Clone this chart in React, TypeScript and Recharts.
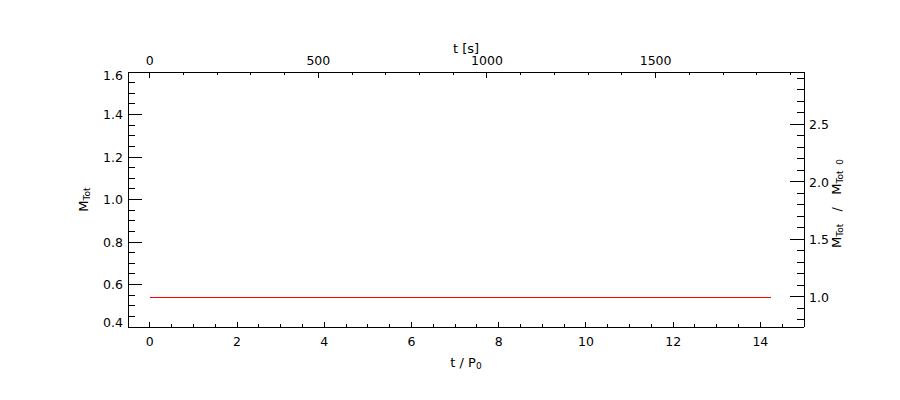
import React from 'react';
import { LineChart, Line, XAxis, YAxis, Label } from 'recharts';

// bottom axis: t / P0, top axis: t [s]
const tOverP0 = [0, 2, 4, 6, 8, 10, 12, 14.24];
const mTot = [0.541, 0.541, 0.541, 0.541, 0.541, 0.541, 0.541, 0.541];
const tSeconds = [0, 259, 518, 777, 1036, 1295, 1554, 1844];
const mRatio = [1.0, 1.0, 1.0, 1.0, 1.0, 1.0, 1.0, 1.0];

const bottomLabels = [0, 2, 4, 6, 8, 10, 12, 14];
const topLabels = [0, 500, 1000, 1500];
const leftLabels = [0.4, 0.6, 0.8, 1.0, 1.2, 1.4, 1.6];
const rightLabels = [1.0, 1.5, 2.0, 2.5];

const range = (a: number, b: number, step: number) => {
  const out: number[] = [];
  for (let i = 0; a + i * step <= b + 1e-9; i++) out.push(+(a + i * step).toFixed(4));
  return out;
};

const bottomTicks = range(0, 14.5, 0.5);
const topTicks = range(0, 1900, 100);
const leftTicks = range(0.4, 1.6, 0.05);
const rightTicks = range(0.8, 2.9, 0.1);

const mainData = tOverP0.map((t, i) => ({ t, m: mTot[i] }));
const ratioData = tSeconds.map((s, i) => ({ s, r: mRatio[i] }));

const FONT = 'DejaVu Sans';
const RED = '#ff0000';

const isLabel = (v: number, list: number[]) => list.some((l) => Math.abs(l - v) < 1e-6);

function makeTick(side: 'bottom' | 'top' | 'left' | 'right', labels: number[], fmt: (v: number) => string) {
  return (props: any) => {
    const { x, y, payload, index } = props;
    const v = payload.value as number;
    const major = isLabel(v, labels);
    const horiz = side === 'bottom' || side === 'top';
    const len = horiz ? (major ? 5.5 : 3) : major ? 14 : 7;
    let line;
    let text = null;
    if (side === 'bottom') {
      line = <line x1={x} y1={y} x2={x} y2={y - len} stroke="#000" shapeRendering="crispEdges" />;
      if (major) text = <text x={x} y={y + 19} textAnchor="middle">{fmt(v)}</text>;
    } else if (side === 'top') {
      line = <line x1={x} y1={y} x2={x} y2={y + len} stroke="#000" shapeRendering="crispEdges" />;
      if (major) text = <text x={x} y={y - 7} textAnchor="middle">{fmt(v)}</text>;
    } else if (side === 'left') {
      line = <line x1={x} y1={y} x2={x + len} y2={y} stroke="#000" shapeRendering="crispEdges" />;
      let dy = 4.5;
      if (index === 0) dy = 0;
      if (v >= 1.6 - 1e-6) dy = 7.5;
      if (major) text = <text x={x - 5} y={y + dy} textAnchor="end">{fmt(v)}</text>;
    } else {
      line = <line x1={x} y1={y} x2={x - len} y2={y} stroke="#000" shapeRendering="crispEdges" />;
      if (major) text = <text x={x + 5} y={y + 5} textAnchor="start">{fmt(v)}</text>;
    }
    return (
      <g>
        {line}
        {text && React.cloneElement(text, { fontFamily: FONT, fontSize: 12.5, fill: '#000' })}
      </g>
    );
  };
}

const titleStyle = { fontFamily: FONT, fontSize: 13, fill: '#000' };
const axisLineStyle = { stroke: '#000', shapeRendering: 'crispEdges' };

export default function App() {
  return (
    <div style={{ width: 884, height: 384 }}>
      <LineChart width={884} height={384} data={mainData} margin={{ top: 0, right: 0, bottom: 0, left: 0 }}>
        <XAxis
          xAxisId="b"
          dataKey="t"
          type="number"
          orientation="bottom"
          domain={[-0.5, 15]}
          allowDataOverflow
          ticks={bottomTicks}
          interval={0}
          height={65}
          tickSize={0}
          tickMargin={0}
          tickLine={false}
          axisLine={axisLineStyle}
          tick={makeTick('bottom', bottomLabels, (v) => String(v))}
        >
          <Label
            content={({ viewBox }: any) => (
              <text x={viewBox.x + viewBox.width / 2} y={viewBox.y + 40} textAnchor="middle" {...titleStyle}>
                {'t  /  P'}<tspan fontSize={9} dy={2}>0</tspan>
              </text>
            )}
          />
        </XAxis>
        <XAxis
          xAxisId="t"
          dataKey="s"
          type="number"
          orientation="top"
          domain={[-64.3, 1940]}
          allowDataOverflow
          ticks={topTicks}
          interval={0}
          height={64}
          tickSize={0}
          tickMargin={0}
          tickLine={false}
          axisLine={axisLineStyle}
          tick={makeTick('top', topLabels, (v) => String(v))}
        >
          <Label
            content={({ viewBox }: any) => (
              <text x={viewBox.x + viewBox.width / 2} y={45} textAnchor="middle" {...titleStyle}>
                t [s]
              </text>
            )}
          />
        </XAxis>
        <YAxis
          yAxisId="l"
          type="number"
          orientation="left"
          domain={[0.4, 1.6]}
          allowDataOverflow
          ticks={leftTicks}
          interval={0}
          width={120}
          tickSize={0}
          tickMargin={0}
          tickLine={false}
          axisLine={axisLineStyle}
          tick={makeTick('left', leftLabels, (v) => v.toFixed(1))}
        >
          <Label
            content={({ viewBox }: any) => {
              const cx = 79.5;
              const cy = viewBox.y + viewBox.height / 2;
              return (
                <text x={cx} y={cy} textAnchor="middle" transform={`rotate(-90 ${cx} ${cy})`} {...titleStyle}>
                  M<tspan fontSize={9} dy={2}>Tot</tspan>
                </text>
              );
            }}
          />
        </YAxis>
        <YAxis
          yAxisId="r"
          type="number"
          orientation="right"
          domain={[0.739, 2.956]}
          allowDataOverflow
          ticks={rightTicks}
          interval={0}
          width={88}
          tickSize={0}
          tickMargin={0}
          tickLine={false}
          axisLine={axisLineStyle}
          tick={makeTick('right', rightLabels, (v) => v.toFixed(1))}
        >
          <Label
            content={({ viewBox }: any) => {
              const cx = 833;
              const cy = viewBox.y + viewBox.height / 2 + 4;
              return (
                <text
                  x={cx}
                  y={cy}
                  textAnchor="middle"
                  transform={`rotate(-90 ${cx} ${cy})`}
                  style={{ whiteSpace: 'pre' }}
                  {...titleStyle}
                >
                  M<tspan fontSize={9} dy={2}>Tot</tspan>
                  <tspan dy={-2}>{'   /   M'}</tspan>
                  <tspan fontSize={9} dy={2}>{'Tot  0'}</tspan>
                </text>
              );
            }}
          />
        </YAxis>
        <Line
          xAxisId="b"
          yAxisId="l"
          dataKey="m"
          type="linear"
          stroke={RED}
          strokeWidth={1}
          shapeRendering="crispEdges"
          dot={false}
          isAnimationActive={false}
        />
        <Line
          xAxisId="t"
          yAxisId="r"
          data={ratioData}
          dataKey="r"
          type="linear"
          stroke={RED}
          strokeOpacity={0}
          strokeWidth={1}
          dot={false}
          isAnimationActive={false}
        />
      </LineChart>
    </div>
  );
}
